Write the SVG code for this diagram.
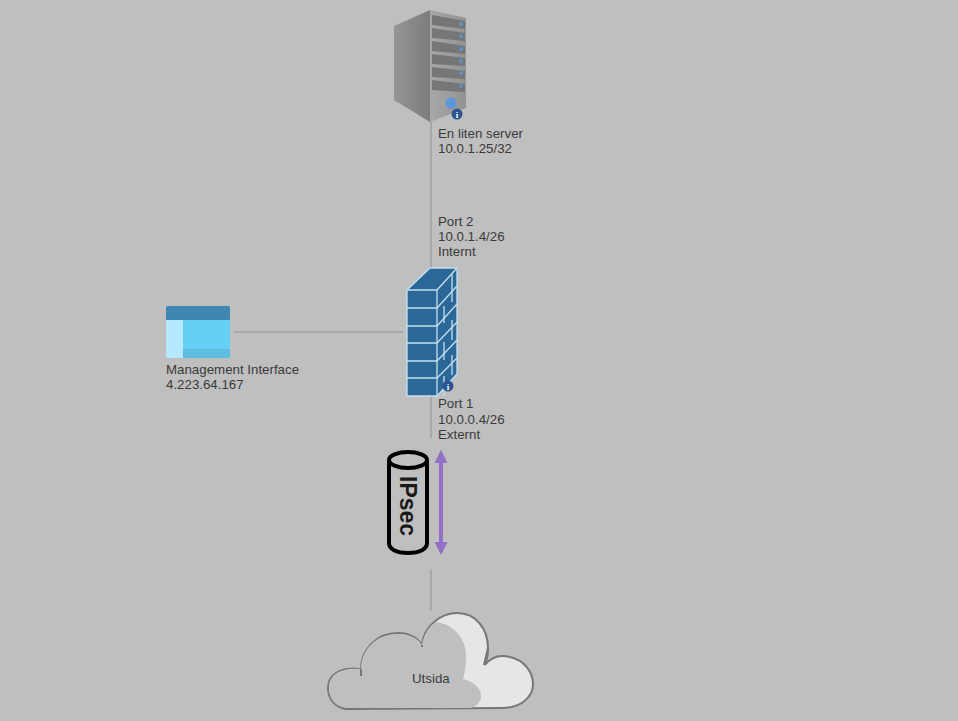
<svg xmlns="http://www.w3.org/2000/svg" width="958" height="721" viewBox="0 0 958 721">
<style>
.t{font-family:"Liberation Sans",Arial,sans-serif;font-size:13.3px;fill:#3a3a3a}
.c{stroke:#909090;stroke-width:1;fill:none}
.b{fill:#2b6797;stroke:#c3e0ee;stroke-width:1.300}
.l{stroke:#c3e0ee;stroke-width:1.300;fill:none}
.slot{fill:#767676}
.led{fill:#5b93c7}
.i{fill:#fff;font-family:"Liberation Serif",serif;font-size:9px;font-weight:bold;text-anchor:middle}
</style>
<defs>
<linearGradient id="side" x1="0" x2="1" y1="0" y2="0"><stop offset="0" stop-color="#969696"/><stop offset="1" stop-color="#7c7c7c"/></linearGradient>
<linearGradient id="front" x1="0" x2="1" y1="0" y2="0"><stop offset="0" stop-color="#a8a8a8"/><stop offset="1" stop-color="#929292"/></linearGradient>
<marker id="ah" markerUnits="userSpaceOnUse" markerWidth="13" markerHeight="14" refX="10" refY="7" orient="auto-start-reverse"><path d="M0 0.500L13 7L0 13.500Z" fill="#9370c8"/></marker>
</defs>
<rect width="958" height="721" fill="#bfbfbf"/>
<g id="connectors">
<line class="c" x1="431" y1="120" x2="431" y2="268"/>
<line class="c" x1="431" y1="396" x2="431" y2="438"/>
<line class="c" x1="431" y1="569" x2="431" y2="611"/>
<line class="c" x1="234" y1="332" x2="403" y2="332"/>
</g>
<g id="server">
<path d="M394 26L430 10V122L394 100Z" fill="url(#side)"/>
<path d="M430 10L466 18V108L430 122Z" fill="url(#front)"/>
<g class="slot">
<path d="M432 15L465 21V29L432 25Z"/>
<path d="M432 28L465 33V41L432 38Z"/>
<path d="M432 41L465 46V54L432 51Z"/>
<path d="M432 54L465 58V66L432 64Z"/>
<path d="M432 67L465 71V79L432 77Z"/>
<path d="M432 80L465 84V92L432 90Z"/>
</g>
<g class="led">
<circle cx="461" cy="24" r="2"/><circle cx="461" cy="36" r="2"/><circle cx="461" cy="49" r="2"/><circle cx="461" cy="61" r="2"/><circle cx="461" cy="73" r="2"/><circle cx="461" cy="86" r="2"/>
</g>
<circle cx="451" cy="103" r="5.500" fill="#5c97dd"/>
<circle cx="457" cy="114" r="5.500" fill="#2d5490"/>
<text class="i" x="457" y="117.500">i</text>
<text class="t"><tspan x="438" y="138">En liten server</tspan><tspan x="438" y="153">10.0.1.25/32</tspan></text>
</g>
<g id="firewall">
<path class="b" d="M407 290L430 268H457V374L437 396H407Z"/>
<path class="l" d="M407 290H437V396M437 290L457 268"/>
<path class="l" d="M407 308H437L457 286M407 326H437L457 304M407 343H437L457 322M407 361H437L457 340M407 378H437L457 358"/>
<path class="l" d="M452 274V302M444 306V323M452 320V340M444 342V360M452 355V375M444 376V396"/>
<circle cx="448" cy="386" r="5.500" fill="#2d5490"/>
<text class="i" x="448" y="389.500">i</text>
<text class="t"><tspan x="438" y="226">Port 2</tspan><tspan x="438" y="241">10.0.1.4/26</tspan><tspan x="438" y="256">Internt</tspan></text>
<text class="t"><tspan x="438" y="408">Port 1</tspan><tspan x="438" y="424">10.0.0.4/26</tspan><tspan x="438" y="439">Externt</tspan></text>
</g>
<g id="management">
<rect x="166" y="306" width="64" height="52" rx="2" fill="#66cff5"/>
<path d="M166 320V308a2 2 0 0 1 2-2H228a2 2 0 0 1 2 2V320Z" fill="#3f87b3"/>
<path d="M166 320H183V358H168a2 2 0 0 1-2-2Z" fill="#b5e9ff"/>
<path d="M183 349H230V356a2 2 0 0 1-2 2H183Z" fill="#5dbde0"/>
<text class="t"><tspan x="166" y="374">Management Interface</tspan><tspan x="166" y="389">4.223.64.167</tspan></text>
</g>
<g id="ipsec">
<path d="M389 461V543C389 549 396 553 408 553C420 553 427 549 427 543V461" fill="none" stroke="#000" stroke-width="4"/>
<ellipse cx="408" cy="460" rx="19" ry="8" fill="none" stroke="#000" stroke-width="4"/>
<text transform="translate(400 476) rotate(90)" font-family="Liberation Sans,Arial,sans-serif" font-size="23" font-weight="bold" fill="#1a1a1a">IPsec</text>
<line x1="441" y1="453" x2="441" y2="552" stroke="#9370c8" stroke-width="4" marker-start="url(#ah)" marker-end="url(#ah)"/>
</g>
<g id="cloud">
<path d="M349 709C335 709 328 698 328 688C328 675 340 666 361 669C361 650 376 633 398 633C409 633 418 638 422 645C424 625 442 613 457 613C477 613 488 630 488 648C488 654 487 660 485 665C492 656 502 655 510 657C524 660 533 672 533 684C533 698 520 708 502 708Z" fill="#e6e6e6" stroke="#777" stroke-width="2"/>
<path d="M349 708C335 708 329 698 329 688C329 675 340 667 361 669C361 650 376 634 398 634C409 634 418 638 422 645C424 632 432 623 437 622C455 625 466 640 466 655C466 665 465 672 463 679C474 682 481 688 481 696C481 701 477 706 471 708Z" fill="#bfbfbf"/>
<path d="M361 669L361 676M422 645L422 647M488 648L484 665" stroke="#777" stroke-width="2" fill="none"/>
<text class="t" x="412" y="683">Utsida</text>
</g>
</svg>
